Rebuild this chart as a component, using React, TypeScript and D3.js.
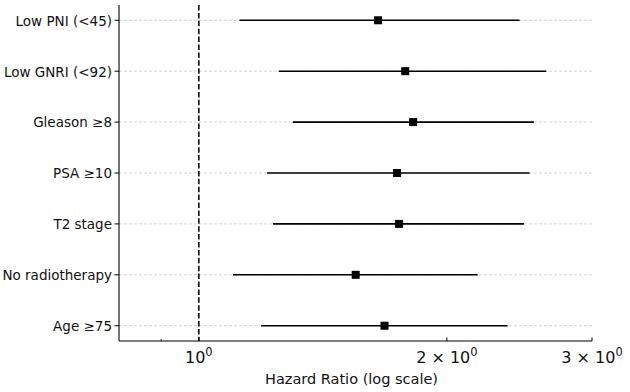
import React from 'react'
import * as d3 from 'd3'

// forest plot: hazard ratios with 95% CI, bottom row first
const labels = ['Age ≥75', 'No radiotherapy', 'T2 stage', 'PSA ≥10', 'Gleason ≥8', 'Low GNRI (<92)', 'Low PNI (<45)']
const hr = [1.68, 1.55, 1.75, 1.74, 1.82, 1.78, 1.65]
const lower = [1.19, 1.10, 1.23, 1.21, 1.30, 1.25, 1.12]
const upper = [2.37, 2.18, 2.48, 2.52, 2.55, 2.64, 2.45]
const majorTicks = [1, 2, 3]
const minorTicks = [0.9]
const xDomain = [0.8, 3]

const W = 630, H = 392
const left = 119, right = 592, top = 5, bottom = 341
const font = '"DejaVu Sans", sans-serif'

export default function App() {
  const x = d3.scaleLog().domain(xDomain).range([left, right])
  const y = d3.scaleLinear().domain([-0.3, labels.length - 0.7]).range([bottom, top])
  const sq = 8

  return (
    <svg width={W} height={H} style={{ position: 'absolute', left: 0, top: 0 }} fontFamily={font}>
      <rect width={W} height={H} fill="#fff" />
      {/* grid */}
      {labels.map((l, i) => (
        <line key={'g' + i} x1={left} x2={right} y1={y(i)} y2={y(i)}
          stroke="#c8c8c8" strokeWidth={0.8} strokeDasharray="3,2" />
      ))}
      {/* reference line at HR = 1 */}
      <line x1={x(1)} x2={x(1)} y1={top} y2={bottom} stroke="#000" strokeWidth={1.5} strokeDasharray="5.5,2.4" />
      {/* CI lines and points */}
      {labels.map((l, i) => (
        <g key={'r' + i}>
          <line x1={x(lower[i])} x2={x(upper[i])} y1={y(i)} y2={y(i)} stroke="#000" strokeWidth={1.6} />
          <rect x={x(hr[i]) - sq / 2} y={y(i) - sq / 2} width={sq} height={sq} fill="#000" />
        </g>
      ))}
      {/* spines */}
      <line x1={left} x2={left} y1={top} y2={bottom} stroke="#000" strokeWidth={1.1} />
      <line x1={left} x2={right} y1={bottom} y2={bottom} stroke="#000" strokeWidth={1.1} />
      {/* y ticks */}
      {labels.map((l, i) => (
        <g key={'y' + i}>
          <line x1={left - 4.5} x2={left} y1={y(i)} y2={y(i)} stroke="#000" strokeWidth={1} />
          <text x={left - 7} y={y(i)} dy="0.4em" textAnchor="end" fontSize={13.5} fill="#111">{l}</text>
        </g>
      ))}
      {/* x ticks, inward */}
      {majorTicks.map(t => (
        <g key={'x' + t}>
          <line x1={x(t)} x2={x(t)} y1={bottom} y2={bottom - 3.5} stroke="#000" strokeWidth={1} />
          <text x={x(t)} y={363} textAnchor="middle" fontSize={16} fill="#111">
            {t === 1 ? '' : `${t} × `}10<tspan dy={-7} fontSize={11.5}>0</tspan>
          </text>
        </g>
      ))}
      {minorTicks.map(t => (
        <line key={'m' + t} x1={x(t)} x2={x(t)} y1={bottom} y2={bottom - 2} stroke="#000" strokeWidth={0.8} />
      ))}
      <text x={(left + right) / 2 - 4} y={384} textAnchor="middle" fontSize={14.5} fill="#111">Hazard Ratio (log scale)</text>
    </svg>
  )
}
